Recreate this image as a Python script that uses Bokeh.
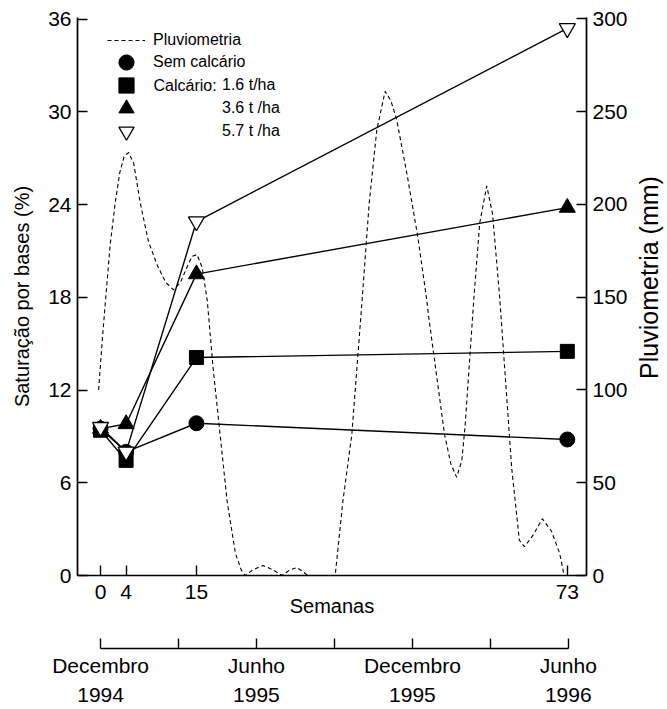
import math
from bokeh.plotting import figure
from bokeh.layouts import column, row
from bokeh.models import Range1d, LinearAxis, FixedTicker, Legend, LegendItem, Label
from bokeh.embed import file_html
from bokeh.resources import INLINE

# ---------------- data ----------------
weeks = [0, 4, 15, 73]
sem_calcario = [9.5, 8.0, 9.85, 8.8]
calc_16 = [9.4, 7.45, 14.1, 14.5]
calc_36 = [9.5, 9.8, 19.5, 23.8]
calc_57 = [9.6, 8.0, 22.9, 35.4]

rain_weeks = [-0.3, 0.3, 0.8, 1.5, 2.3, 3.0, 3.7, 4.4, 5.2, 6.2, 7.5, 8.9, 10.2, 11.4,
              12.5, 13.5, 14.3, 15.1, 15.9, 16.7, 17.6, 18.7, 19.8, 21.1, 22.0, 22.6,
              23.8, 25.4, 27.0, 28.4, 29.6, 30.7, 31.7, 32.4, 36.7, 37.9, 39.3, 40.1,
              40.9, 42.0, 43.2, 44.5, 45.4, 46.3, 48.0, 49.6, 51.0, 51.3, 53.8, 54.8,
              55.7, 56.5, 57.0, 57.7, 58.4, 59.3, 60.4, 61.3, 62.4, 63.2, 64.3, 65.5,
              66.3, 67.7, 69.1, 70.5, 71.8, 72.5]
rain_mm = [100, 128, 149, 178, 201, 217, 226, 228, 222, 201, 180, 167, 158, 154,
           158, 166, 172, 173, 166, 148, 112, 76, 40, 12, 3, 0,
           3, 5.4, 3, 0, 3, 4.3, 2, 0, 0, 40, 76, 112,
           148, 200, 240, 261, 256, 246, 215, 183, 149, 140, 76, 60,
           53, 62, 80, 115, 150, 190, 210, 195, 151, 112, 58, 19,
           15.5, 22, 30.6, 24, 12, 0]

week_ticks = [0, 4, 15, 73]
sat_ticks = [0, 6, 12, 18, 24, 30, 36]
rain_ticks = [0, 50, 100, 150, 200, 250, 300]
month_ticks = [0, 12.17, 24.33, 36.5, 48.67, 60.83, 73]
month_labels = ["Decembro", "", "Junho", "", "Decembro", "", "Junho"]
year_ticks = [0, 24.33, 48.67, 73]
year_labels = ["1994", "1995", "1995", "1996"]

FONT = "Liberation Sans"
TICK_FS = "21px"
W = 667
W_MAIN = 630
H_MAIN = 629
FRAME_BOTTOM = 575   # page y of the frame's bottom edge

x_range = Range1d(-3.6, 76)

p = figure(width=W_MAIN, height=H_MAIN, output_backend="svg", toolbar_location=None,
           x_range=x_range, y_range=Range1d(0, 36.1),
           min_border_left=77, min_border_right=W_MAIN - 587, min_border_top=17,
           min_border_bottom=H_MAIN - FRAME_BOTTOM)
p.extra_y_ranges = {"rain": Range1d(0, 300.8)}
p.xgrid.visible = False
p.ygrid.visible = False
p.outline_line_color = None


def style_axis(ax, tick_in=10):
    ax.axis_line_color = "black"
    ax.axis_line_width = 1.7
    ax.major_tick_line_color = "black"
    ax.major_tick_line_width = 1.4
    ax.major_tick_in = tick_in
    ax.major_tick_out = 0
    ax.minor_tick_line_color = None
    ax.minor_tick_in = 0
    ax.minor_tick_out = 0
    ax.major_label_text_font = FONT
    ax.major_label_text_font_size = TICK_FS
    ax.major_label_text_color = "black"
    ax.axis_label_text_font = FONT
    ax.axis_label_text_font_style = "normal"
    ax.axis_label_text_color = "black"


# left axis
yl = p.yaxis[0]
style_axis(yl)
yl.ticker = FixedTicker(ticks=sat_ticks)
yl.major_label_standoff = 6
yl.axis_label = "Saturação por bases (%)"
yl.axis_label_text_font_size = "20px"
yl.axis_label_standoff = 12

# right axis
yr = LinearAxis(y_range_name="rain", ticker=FixedTicker(ticks=rain_ticks))
style_axis(yr)
yr.major_label_standoff = 6
p.add_layout(yr, "right")

# week axis
xb = p.xaxis[0]
style_axis(xb)
xb.ticker = FixedTicker(ticks=week_ticks)
xb.major_label_standoff = 9
xb.axis_label = "Semanas"
xb.axis_label_text_font_size = "20px"
xb.axis_label_standoff = -7

# ---------------- glyphs ----------------
rain_r = p.line(rain_weeks, rain_mm, y_range_name="rain", line_color="black",
                line_width=1.1, line_dash="4 3")

for series in (sem_calcario, calc_16, calc_36, calc_57):
    p.line(weeks, series, line_color="black", line_width=1.4)

r_sem = p.scatter(weeks, sem_calcario, marker="circle", size=15,
                  fill_color="black", line_color="black")
r_16 = p.scatter(weeks, calc_16, marker="square", size=14,
                 fill_color="black", line_color="black")
r_36 = p.scatter(weeks, calc_36, marker="triangle", size=16,
                 fill_color="black", line_color="black")
r_57 = p.scatter(weeks, calc_57, marker="inverted_triangle", size=16,
                 fill_color="white", line_color="black", line_width=1.3)

# legend: one single-item legend per row (keeps markers large, rows tight)
legend_rows = [
    ("Pluviometria", rain_r, 30, 516, 8),
    ("Sem calcário", r_sem, 30, 494, 8),
    ("1.6 t/ha", r_16, 30, 471, 77),
    ("3.6 t /ha", r_36, 30, 448, 77),
    ("5.7 t /ha", r_57, 30, 425, 77),
]
for lab, rend, lx, ly, so in legend_rows:
    lg = Legend(items=[LegendItem(label=lab, renderers=[rend])], location=(lx, ly),
                padding=0, margin=0, spacing=0,
                glyph_width=38, glyph_height=38, label_height=38,
                label_standoff=so, label_text_font=FONT,
                label_text_font_size="16px", label_text_color="black",
                border_line_color=None, background_fill_alpha=0)
    p.add_layout(lg, "center")

p.add_layout(Label(x=76, y=490, x_units="screen", y_units="screen",
                   text="Calcário:", text_font=FONT, text_font_size="16px",
                   text_baseline="middle", text_color="black"))

# ---------------- right title strip ----------------
p3 = figure(width=W - W_MAIN, height=H_MAIN, output_backend="svg",
            toolbar_location=None, x_axis_location=None, y_axis_location=None,
            x_range=Range1d(0, 1), y_range=Range1d(0, 1),
            min_border_left=0, min_border_right=0, min_border_top=0,
            min_border_bottom=0)
p3.xgrid.visible = False
p3.ygrid.visible = False
p3.outline_line_color = None
# the strip's frame is aligned with the main frame (bottom at page y 575)
p3.add_layout(Label(x=(W - W_MAIN) / 2, y=FRAME_BOTTOM - 277, x_units="screen",
                    y_units="screen", text="Pluviometria (mm)", angle=math.pi / 2,
                    text_align="center", text_baseline="middle",
                    text_font=FONT, text_font_size="25px", text_color="black"))

# ---------------- calendar axis (second strip) ----------------
p2 = figure(width=W, height=709 - H_MAIN, output_backend="svg", toolbar_location=None,
            x_range=x_range, y_range=Range1d(0, 1),
            x_axis_location=None, y_axis_location=None,
            min_border_left=77, min_border_right=80, min_border_top=0,
            min_border_bottom=61)
p2.xgrid.visible = False
p2.ygrid.visible = False
p2.outline_line_color = None

mx = LinearAxis(ticker=FixedTicker(ticks=month_ticks), bounds=(0, 73))
style_axis(mx)
mx.major_label_overrides = {t: l for t, l in zip(month_ticks, month_labels)}
mx.major_label_standoff = 5
p2.add_layout(mx, "below")

yx = LinearAxis(ticker=FixedTicker(ticks=year_ticks), bounds=(0, 73))
style_axis(yx, tick_in=0)
yx.axis_line_color = None
yx.major_tick_line_color = None
yx.major_label_overrides = {t: l for t, l in zip(year_ticks, year_labels)}
yx.major_label_standoff = 8
p2.add_layout(yx, "below")

layout = column(row(p, p3, spacing=0), p2, spacing=0)

with open("out.html", "w", encoding="utf-8") as f:
    f.write(file_html(layout, INLINE))
